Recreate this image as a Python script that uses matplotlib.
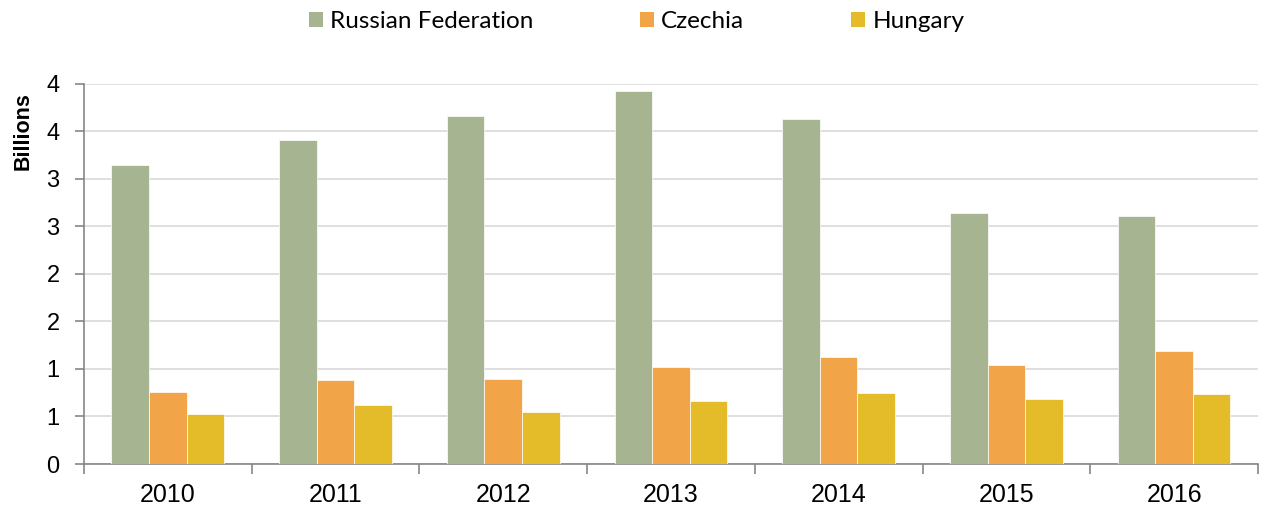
import numpy as np
import matplotlib.pyplot as plt
from matplotlib.patches import Patch

# data (billions)
years = ['2010', '2011', '2012', '2013', '2014', '2015', '2016']
russia = [3.15, 3.41, 3.66, 3.92, 3.63, 2.64, 2.61]
czechia = [0.76, 0.88, 0.89, 1.02, 1.13, 1.04, 1.19]
hungary = [0.53, 0.62, 0.55, 0.66, 0.75, 0.68, 0.74]
series_names = ['Russian Federation', 'Czechia', 'Hungary']
colors = ['#a6b492', '#f2a448', '#e4bb28']

ytick_vals = [0, 0.5, 1, 1.5, 2, 2.5, 3, 3.5, 4]
ytick_labels = ['0', '1', '1', '2', '2', '3', '3', '4', '4']

plt.rcParams['font.family'] = ['Liberation Sans', 'DejaVu Sans']

fig = plt.figure(figsize=(12.63, 5.08), dpi=100)
ax = fig.add_axes([0.0665, 0.0866, 0.9295, 0.7484])

x = np.arange(len(years))
w = 0.224
for i, (vals, c) in enumerate(zip([russia, czechia, hungary], colors)):
    ax.bar(x + (i - 1) * w, vals, width=w, color=c, edgecolor='white',
           linewidth=0.5, zorder=3)

ax.set_xlim(-0.5, len(years) - 0.5)
ax.set_ylim(0, 4)

ax.set_yticks(ytick_vals)
ax.set_yticklabels(ytick_labels, fontsize=17)
ax.yaxis.grid(True, color='#d9d9d9', linewidth=1.2, zorder=0)
ax.tick_params(axis='y', length=6.5, width=1.2, color='#868686', pad=11)

ax.set_xticks(x)
ax.set_xticklabels(years, fontsize=18)
ax.set_xticks(np.arange(-0.5, len(years)), minor=True)
ax.tick_params(axis='x', which='major', length=0, pad=14)
ax.tick_params(axis='x', which='minor', length=7, width=1.2, color='#868686')

for s in ['top', 'right']:
    ax.spines[s].set_visible(False)
for s in ['left', 'bottom']:
    ax.spines[s].set_color('#868686')
    ax.spines[s].set_linewidth(1.2)

fig.text(0.018, 0.742, 'Billions', rotation=90, ha='center', va='center',
         fontsize=15.5, fontweight='bold')

handles = [Patch(facecolor=c, edgecolor='none') for c in colors]
fig.legend(handles, series_names, loc='center', bbox_to_anchor=(0.504, 0.957),
           ncol=3, frameon=False, handlelength=0.58, handleheight=0.58,
           handletextpad=0.29, columnspacing=4.4,
           prop={'family': ['Lato', 'Liberation Sans'], 'size': 17.5})

fig.savefig('out.png', dpi=100)
